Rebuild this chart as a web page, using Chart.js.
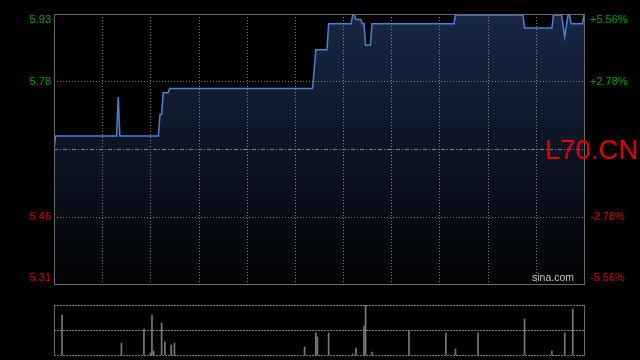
<!DOCTYPE html>
<html><head><meta charset="utf-8">
<script src="https://cdn.jsdelivr.net/npm/chart.js@4/dist/chart.umd.min.js"></script>
<style>
html,body{margin:0;padding:0;background:#000;width:640px;height:360px;overflow:hidden}
#c1{position:absolute;left:0;top:0}
#c2{position:absolute;left:0;top:290px}
</style></head>
<body>
<canvas id="c1" width="640" height="290"></canvas>
<canvas id="c2" width="640" height="70"></canvas>
<script>
// ---- data ----
const prevClose = 5.62;
const pctRange = 5.56;
const pctTicks = [5.56, 2.78, -2.78, -5.56];
const priceTickLabels = ['5.93', '5.78', '5.46', '5.31'];
const pctTickLabels = ['+5.56%', '+2.78%', '-2.78%', '-5.56%'];
const sessionMinutes = 330;
const timeGridMinutes = [30, 60, 90, 120, 150, 180, 210, 240, 270, 300];
const priceMinutes = [0,1,39,40,41,65,66,67,68,71,72,161,163,170,171,185,186,187,188,191,192,193,194,197,198,249,250,292,293,310,311,316,318,320,321,322,329,330];
const prices = [5.62,5.65,5.65,5.74,5.65,5.65,5.70,5.70,5.75,5.75,5.76,5.76,5.85,5.85,5.91,5.91,5.93,5.93,5.92,5.92,5.91,5.91,5.86,5.86,5.91,5.91,5.93,5.93,5.90,5.90,5.93,5.93,5.88,5.93,5.93,5.91,5.91,5.93];
const volMinutes = [5,42,56,60,61,62,67,69,73,75,156,163,164,171,186,188,193,194,198,221,244,250,264,293,310,318,323];
const volumes = [40000,12000,26000,2000,40000,4000,32000,13000,10000,12000,8000,22000,18000,22000,1000,7000,29000,50000,3000,24000,22000,6000,22000,36000,4000,22000,46000];
const volMax = 50000;
const watermark = 'L70.CN';
const brand = 'sina.com';

const FONT = '"Liberation Sans", Arial, sans-serif';
const GREEN = '#00a400';
const RED = '#dd0000';
const GRID = 'rgba(150,150,150,0.85)';
const FRAME = '#6a6a6a';

const yMin = prevClose * (1 - pctRange / 100);
const yMax = prevClose * (1 + pctRange / 100);
const pricePoints = priceMinutes.map((m, i) => ({ x: m, y: prices[i] }));
const volPoints = volMinutes.map((m, i) => ({ x: m, y: volumes[i] }));

function hline(ctx, a, y, dash, color) {
  ctx.save(); ctx.strokeStyle = color; ctx.lineWidth = 1; ctx.setLineDash(dash);
  ctx.beginPath(); ctx.moveTo(a.left, Math.round(y) + 0.5); ctx.lineTo(a.right, Math.round(y) + 0.5); ctx.stroke(); ctx.restore();
}
function vline(ctx, x, top, bottom, dash, color) {
  ctx.save(); ctx.strokeStyle = color; ctx.lineWidth = 1; ctx.setLineDash(dash);
  ctx.beginPath(); ctx.moveTo(Math.round(x) + 0.5, top); ctx.lineTo(Math.round(x) + 0.5, bottom); ctx.stroke(); ctx.restore();
}

const mainPlugin = {
  id: 'mainDeco',
  beforeDatasetDraw(chart, args) {
    if (args.index !== 1) return;
    const ctx = chart.ctx, a = chart.chartArea, xs = chart.scales.x, ys = chart.scales.y;
    timeGridMinutes.forEach(m => vline(ctx, xs.getPixelForValue(m), a.top, a.bottom, [1, 2], GRID));
    pctTicks.forEach(p => {
      const y = ys.getPixelForValue(prevClose * (1 + p / 100));
      if (y > a.top + 2 && y < a.bottom - 2) hline(ctx, a, y, [1, 2], GRID);
    });
    hline(ctx, a, ys.getPixelForValue(prevClose), [4, 2, 1, 2], GRID);
  },
  afterDraw(chart) {
    const ctx = chart.ctx, a = chart.chartArea, ys = chart.scales.y;
    ctx.save();
    ctx.strokeStyle = FRAME; ctx.lineWidth = 1; ctx.setLineDash([]);
    ctx.strokeRect(a.left + 0.5, a.top + 0.5, a.right - a.left, a.bottom - a.top);
    ctx.font = '11px ' + FONT;
    ctx.textBaseline = 'middle';
    pctTicks.forEach((p, i) => {
      let y = ys.getPixelForValue(prevClose * (1 + p / 100));
      y = Math.min(Math.max(y, a.top + 6), a.bottom - 6);
      ctx.fillStyle = p > 0 ? GREEN : RED;
      ctx.textAlign = 'right';
      ctx.fillText(priceTickLabels[i], a.left - 3, y);
      ctx.textAlign = 'left';
      ctx.fillText(pctTickLabels[i], a.right + 6, y);
    });
    ctx.fillStyle = '#c8c8c8';
    ctx.font = '10.5px ' + FONT;
    ctx.textAlign = 'left';
    ctx.fillText(brand, 532, a.bottom - 6);
    ctx.fillStyle = '#e60000';
    ctx.font = '27.5px ' + FONT;
    ctx.textBaseline = 'alphabetic';
    ctx.fillText(watermark, 545, 159);
    ctx.restore();
  }
};

new Chart(document.getElementById('c1'), {
  type: 'line',
  data: {
    datasets: [
      {
        data: pricePoints, order: 2, borderWidth: 0, borderColor: 'rgba(0,0,0,0)', pointRadius: 0, tension: 0,
        fill: 'start',
        backgroundColor: (c) => {
          const a = c.chart.chartArea;
          if (!a) return '#101a2c';
          const g = c.chart.ctx.createLinearGradient(0, a.top, 0, a.bottom);
          g.addColorStop(0, '#182744');
          g.addColorStop(0.5, '#0d1526');
          g.addColorStop(1, '#020304');
          return g;
        }
      },
      {
        data: pricePoints, order: 1, borderColor: '#4a82d6', borderWidth: 1.5, pointRadius: 0, tension: 0, fill: false
      }
    ]
  },
  options: {
    responsive: false, animation: false, devicePixelRatio: 1,
    layout: { padding: { left: 54, right: 56, top: 14, bottom: 6 } },
    plugins: { legend: { display: false }, tooltip: { enabled: false } },
    scales: {
      x: { type: 'linear', min: 0, max: sessionMinutes, display: false },
      y: { type: 'linear', min: yMin, max: yMax, display: false }
    }
  },
  plugins: [mainPlugin]
});

const volPlugin = {
  id: 'volDeco',
  beforeDatasetsDraw(chart) {
    const ctx = chart.ctx, a = chart.chartArea, ys = chart.scales.y;
    [volMax, volMax / 2, 0].forEach(v => hline(ctx, a, ys.getPixelForValue(v), [2, 1], GRID));
    vline(ctx, a.left, a.top, a.bottom + 1, [], FRAME);
    vline(ctx, a.right, a.top, a.bottom + 1, [], FRAME);
  }
};

new Chart(document.getElementById('c2'), {
  type: 'bar',
  data: {
    datasets: [{ data: volPoints, backgroundColor: '#7a7a7a', barThickness: 1, borderWidth: 0 }]
  },
  options: {
    responsive: false, animation: false, devicePixelRatio: 1,
    layout: { padding: { left: 54, right: 56, top: 15, bottom: 5 } },
    plugins: { legend: { display: false }, tooltip: { enabled: false } },
    scales: {
      x: { type: 'linear', min: 0, max: sessionMinutes, offset: false, display: false, grid: { offset: false } },
      y: { type: 'linear', min: 0, max: volMax, display: false }
    }
  },
  plugins: [volPlugin]
});
</script>
</body></html>
